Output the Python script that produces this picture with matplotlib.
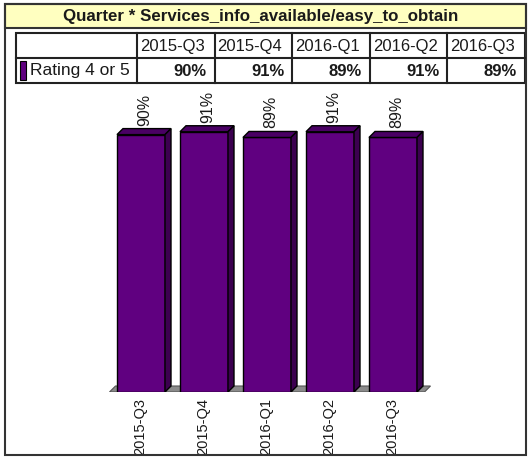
import matplotlib
matplotlib.use('Agg')
import matplotlib.pyplot as plt
from matplotlib.patches import Rectangle, Polygon

# ---- data ----
quarters = ['2015-Q3', '2015-Q4', '2016-Q1', '2016-Q2', '2016-Q3']
values = [90, 91, 89, 91, 89]
series_name = 'Rating 4 or 5'
title = 'Quarter * Services_info_available/easy_to_obtain'

plt.rcParams['font.family'] = ['Liberation Sans', 'DejaVu Sans']

W, H = 529, 457
fig = plt.figure(figsize=(W / 100, H / 100), dpi=100)

FRONT = '#600080'
SIDE = '#3C0050'
TOP = '#4A0064'
TXT = '#1a1a1a'

# ---- bar axes ----
px_per_unit_x = 63.0
x0_px = 141.0
ax_left, ax_right = 100.0, 440.0
ax_bottom_px, ax_top_px = 392.0, 90.0   # from top of image
px_per_pct = 2.86
ax = fig.add_axes([ax_left / W, (H - ax_bottom_px) / H,
                   (ax_right - ax_left) / W, (ax_bottom_px - ax_top_px) / H])
ax.set_xlim((ax_left - x0_px) / px_per_unit_x, (ax_right - x0_px) / px_per_unit_x)
ax.set_ylim(0, (ax_bottom_px - ax_top_px) / px_per_pct)
ax.axis('off')

xs = list(range(len(quarters)))
bw = 48.0 / px_per_unit_x
dx = 6.0 / px_per_unit_x
dy = 6.0 / px_per_pct

# floor
fl, fr = -0.5, len(quarters) - 0.5
ax.add_patch(Polygon([(fl, 0), (fr, 0), (fr + dx, dy), (fl + dx, dy)],
                     closed=True, facecolor='#8a8a8a', edgecolor='#555555',
                     linewidth=0.8, zorder=1))

ax.bar(xs, values, width=bw, color=FRONT, edgecolor='black', linewidth=1.0, zorder=3)
for x, v in zip(xs, values):
    l, r = x - bw / 2, x + bw / 2
    ax.add_patch(Polygon([(l, v), (r, v), (r + dx, v + dy), (l + dx, v + dy)],
                         closed=True, facecolor=TOP, edgecolor='black',
                         linewidth=1.0, zorder=3))
    ax.add_patch(Polygon([(r, 0), (r + dx, dy), (r + dx, v + dy), (r, v)],
                         closed=True, facecolor=SIDE, edgecolor='black',
                         linewidth=1.0, zorder=3))
    ax.annotate(f'{v}%', xy=(x + dx / 2, v + dy), xytext=(1, 3),
                textcoords='offset pixels', rotation=90, ha='center',
                va='bottom', fontsize=11.5, color=TXT, annotation_clip=False)

for x, q in zip(xs, quarters):
    ax.annotate(q, xy=(x, 0), xytext=(-1, -6), textcoords='offset pixels',
                rotation=90, ha='center', va='top', fontsize=10.5, color=TXT,
                annotation_clip=False)

# ---- overlay (frame, title, table) ----
ov = fig.add_axes([0, 0, 1, 1])
ov.set_xlim(0, W)
ov.set_ylim(H, 0)
ov.axis('off')

# outer frame
ov.add_patch(Rectangle((5, 4), 521, 451, facecolor='none', edgecolor='#333333',
                       linewidth=1.5, zorder=5))
# title bar
ov.add_patch(Rectangle((5, 4), 521, 24, facecolor='#FFFFC0', edgecolor='#333333',
                       linewidth=1.5, zorder=4))
ov.text(261, 16.5, title, ha='center', va='center', fontsize=12.2,
        fontweight='bold', color=TXT, zorder=6)

# table
t_left, t_right = 16, 525
t_top, t_mid, t_bot = 33, 58, 83
c_first = 137
ncol = len(quarters)
cw = (t_right - c_first) / ncol
ov.add_patch(Rectangle((t_left, t_top), t_right - t_left, t_bot - t_top,
                       facecolor='white', edgecolor='#222222', linewidth=1.5, zorder=4))
ov.plot([t_left, t_right], [t_mid, t_mid], color='#222222', lw=1.5, zorder=5)
for i in range(ncol):
    cx = c_first + i * cw
    ov.plot([cx, cx], [t_top, t_bot], color='#222222', lw=1.5, zorder=5)
for i, (q, v) in enumerate(zip(quarters, values)):
    cx = c_first + i * cw
    ov.text(cx + 3, (t_top + t_mid) / 2 + 0.5, q, ha='left', va='center',
            fontsize=12, color=TXT, zorder=6)
    ov.text(cx + cw - 8, (t_mid + t_bot) / 2 + 0.5, f'{v}%', ha='right',
            va='center', fontsize=12, fontweight='bold', color=TXT, zorder=6)
# legend swatch and series name
ov.add_patch(Rectangle((20, 61), 6, 19, facecolor=FRONT, edgecolor='black',
                       linewidth=0.8, zorder=6))
ov.text(30, (t_mid + t_bot) / 2 + 0.5, series_name, ha='left', va='center',
        fontsize=12.5, color=TXT, zorder=6)

fig.savefig('out.png', dpi=100)
